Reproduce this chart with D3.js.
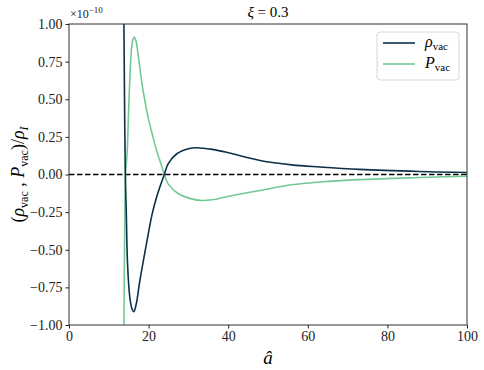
<!DOCTYPE html>
<meta charset="utf-8">
<head>
    <title>vacuum energy</title>
    <script src="https://d3js.org/d3.v7.min.js"></script>
    <style>
        body { margin: 0; background: #fff; }
        svg, svg text { font-family: "Liberation Serif", "Times New Roman", serif !important; }
    </style>
</head>
<body>
<div id="chart"></div>
<script>

// values (units of 1e-10)
var rhoA = [13.8, 14.0, 14.15, 14.4, 14.7, 15.3, 15.8, 16.3, 16.9, 17.8, 19.3, 20.9, 22.0, 23.1, 23.95, 24.9, 27.1, 30.0, 32.1, 36, 39.6, 44, 48, 56, 63, 73, 88, 100];
var rhoV = [1.00, 0.35, 0.0, -0.26, -0.59, -0.82, -0.89, -0.911, -0.86, -0.706, -0.484, -0.262, -0.151, -0.062, 0.0, 0.071, 0.138, 0.171, 0.178, 0.167, 0.148, 0.118, 0.093, 0.064, 0.050, 0.034, 0.020, 0.013];
var presA = [13.8, 14.0, 14.2, 14.6, 14.9, 15.2, 15.6, 16.0, 16.4, 16.8, 17.3, 17.8, 18.3, 19.0, 19.8, 20.8, 22.0, 23.1, 23.95, 24.9, 27.5, 30.8, 33.3, 36, 39.6, 44, 48, 56, 63, 73, 88, 100];
var presV = [-1.00, -0.35, 0.0, 0.14, 0.36, 0.58, 0.80, 0.89, 0.914, 0.89, 0.81, 0.71, 0.61, 0.50, 0.39, 0.28, 0.16, 0.071, 0.0, -0.062, -0.128, -0.162, -0.173, -0.168, -0.148, -0.125, -0.106, -0.068, -0.050, -0.034, -0.020, -0.011];
var xTicks = [0, 20, 40, 60, 80, 100];
var yTicks = [-1.00, -0.75, -0.50, -0.25, 0.00, 0.25, 0.50, 0.75, 1.00];

var rhoColor = "#0d3149", presColor = "#72c996";
var serif = "'Liberation Serif', serif";

var margin = {top: 24, right: 17, bottom: 45, left: 69},
    width = 484 - margin.left - margin.right,
    height = 370 - margin.top - margin.bottom;

var svg = d3.select("#chart")
    .append("svg")
    .attr("width", 484)
    .attr("height", 370)
    .attr("font-family", serif)
    .append("g")
    .attr("transform", "translate(" + margin.left + "," + margin.top + ")");

var x = d3.scaleLinear().domain([0, 100]).range([0, width]);
var y = d3.scaleLinear().domain([-1, 1]).range([height, 0]);

svg.append("clipPath").attr("id", "clip")
    .append("rect").attr("width", width).attr("height", height);

// zero line
svg.append("line")
    .attr("x1", x(0)).attr("x2", x(100))
    .attr("y1", y(0)).attr("y2", y(0))
    .attr("stroke", "black").attr("stroke-width", 1.5)
    .attr("stroke-dasharray", "5.5,2.5");

var line = d3.line()
    .x(function(d) { return x(d[0]); })
    .y(function(d) { return y(d[1]); })
    .curve(d3.curveCatmullRom.alpha(0.5));

svg.append("path")
    .datum(d3.zip(presA, presV))
    .attr("clip-path", "url(#clip)")
    .attr("fill", "none").attr("stroke", presColor).attr("stroke-width", 1.6)
    .attr("d", line);

svg.append("path")
    .datum(d3.zip(rhoA, rhoV))
    .attr("clip-path", "url(#clip)")
    .attr("fill", "none").attr("stroke", rhoColor).attr("stroke-width", 1.6)
    .attr("d", line);

// axes
var xAxis = svg.append("g")
    .attr("transform", "translate(0," + height + ")")
    .call(d3.axisBottom(x).tickValues(xTicks).tickSize(3.5).tickPadding(3).tickSizeOuter(0));
var yAxis = svg.append("g")
    .call(d3.axisLeft(y).tickValues(yTicks).tickSize(3.5).tickPadding(3).tickSizeOuter(0)
        .tickFormat(function(d) { return (d < 0 ? "\u2212" : "") + Math.abs(d).toFixed(2); }));
[xAxis, yAxis].forEach(function(a) {
    a.attr("font-family", serif);
    a.selectAll("text").style("font-size", "14px").attr("fill", "#222");
    a.selectAll("line").attr("stroke", "#222");
    a.select(".domain").remove();
});

// frame
svg.append("rect")
    .attr("width", width).attr("height", height)
    .attr("fill", "none").attr("stroke", "#333").attr("stroke-width", 1);

// offset text
var off = svg.append("text").attr("x", 1).attr("y", -6).style("font-size", "12px").attr("fill", "#222");
off.append("tspan").text("\u00d710");
off.append("tspan").attr("dy", -5).style("font-size", "9px").text("\u221210");

// title
var title = svg.append("text").attr("x", width / 2).attr("y", -7)
    .attr("text-anchor", "middle").style("font-size", "15px");
title.append("tspan").style("font-style", "italic").text("\u03be");
title.append("tspan").text(" = 0.3");

// x label
svg.append("text").attr("x", width / 2).attr("y", height + 39)
    .attr("text-anchor", "middle").style("font-size", "19px").style("font-style", "italic")
    .text("\u00e2");

// y label
var yl = svg.append("text")
    .attr("transform", "translate(-45," + (height / 2) + ") rotate(-90)")
    .attr("text-anchor", "middle").style("font-size", "18px");
yl.append("tspan").text("(");
yl.append("tspan").style("font-style", "italic").text("\u03c1");
yl.append("tspan").attr("dy", 4).style("font-size", "12px").text("vac");
yl.append("tspan").attr("dy", -4).text(" ,  ");
yl.append("tspan").style("font-style", "italic").text("P");
yl.append("tspan").attr("dy", 4).style("font-size", "12px").text("vac");
yl.append("tspan").attr("dy", -4).text(")/");
yl.append("tspan").style("font-style", "italic").text("\u03c1");
yl.append("tspan").attr("dy", 4).style("font-size", "12px").style("font-style", "italic").text("I");

// legend
var lg = svg.append("g").attr("transform", "translate(" + (width - 90) + ",8)");
lg.append("rect").attr("width", 82).attr("height", 48).attr("rx", 3)
    .attr("fill", "white").attr("fill-opacity", 0.8).attr("stroke", "#d6d6d6");
var items = [["\u03c1", rhoColor], ["P", presColor]];
items.forEach(function(it, i) {
    var yy = 11 + i * 21;
    lg.append("line").attr("x1", 6).attr("x2", 38).attr("y1", yy).attr("y2", yy)
        .attr("stroke", it[1]).attr("stroke-width", 1.6);
    var t = lg.append("text").attr("x", 48).attr("y", yy + 4).style("font-size", "16px");
    t.append("tspan").style("font-style", "italic").text(it[0]);
    t.append("tspan").attr("dy", 3).style("font-size", "11px").text("vac");
});

</script>
</body>
</html>
